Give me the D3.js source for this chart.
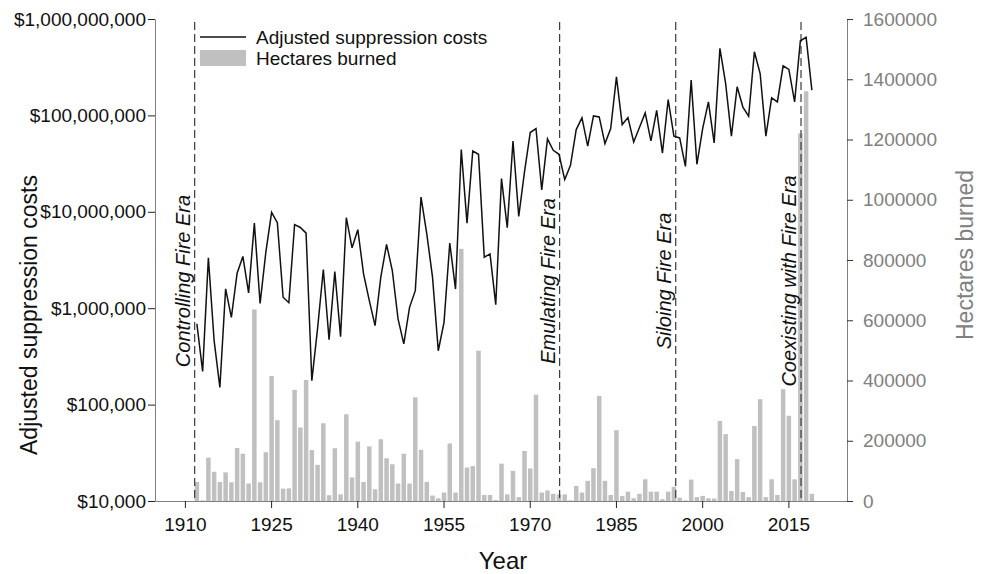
<!DOCTYPE html>
<html>
<head>
<meta charset="utf-8">
<script src="https://cdn.jsdelivr.net/npm/d3@7"></script>
<style>
  body { margin: 0; background: #fff; }
  text { font-family: "Liberation Sans", Arial, sans-serif; }
</style>
</head>
<body>
<div id="chart"></div>
<script>
// data
const firstYear = 1912;
const costs = [
  0.69e6, 0.221e6, 3.33e6, 0.46e6, 0.151e6, 1.59e6, 0.805e6, 2.31e6, 3.44e6, 1.44e6,
  7.63e6, 1.12e6, 3.81e6, 9.86e6, 7.7e6, 1.3e6, 1.14e6, 7.35e6, 6.88e6, 6.0e6,
  0.177e6, 0.618e6, 2.52e6, 0.472e6, 2.4e6, 0.507e6, 8.68e6, 4.23e6, 6.52e6, 2.27e6,
  1.2e6, 0.659e6, 2.1e6, 4.58e6, 2.46e6, 0.774e6, 0.426e6, 1.02e6, 1.52e6, 14.2e6,
  5.9e6, 2.1e6, 0.362e6, 0.714e6, 4.73e6, 1.58e6, 44.2e6, 7.63e6, 42.7e6, 39.5e6,
  3.38e6, 3.66e6, 1.09e6, 22.1e6, 6.84e6, 54.3e6, 8.96e6, 25.9e6, 66.4e6, 73.1e6,
  16.9e6, 57e6, 43.5e6, 39.5e6, 21.6e6, 30.4e6, 71.3e6, 94.2e6, 47.9e6, 98.8e6,
  96.4e6, 51e6, 73e6, 251e6, 80.3e6, 95e6, 53e6, 74.8e6, 106e6, 54.3e6,
  113e6, 40.7e6, 146e6, 60.8e6, 58.4e6, 29.6e6, 232e6, 31.1e6, 73e6, 138e6,
  51.8e6, 496e6, 214e6, 60.8e6, 198e6, 122e6, 98e6, 457e6, 272e6, 60.8e6,
  152e6, 138e6, 327e6, 300e6, 138e6, 595e6, 645e6, 183e6
];
const hectares = [
  63000, 2000, 144000, 97000, 63000, 95000, 62000, 176000, 157000, 58000,
  636000, 62000, 162000, 415000, 268000, 41000, 42000, 369000, 244000, 402000,
  169000, 120000, 258000, 19000, 175000, 22000, 288000, 78000, 197000, 63000,
  181000, 39000, 205000, 142000, 122000, 58000, 157000, 58000, 344000, 170000,
  63000, 18000, 9000, 28000, 191000, 28000, 837000, 111000, 116000, 499000,
  20000, 20000, 3000, 124000, 22000, 100000, 13000, 166000, 108000, 353000,
  28000, 35000, 24000, 22000, 22000, 2000, 50000, 28000, 67000, 109000,
  349000, 67000, 20000, 235000, 17000, 31000, 9000, 24000, 72000, 31000,
  31000, 6000, 31000, 47000, 11000, 2000, 71000, 13000, 17000, 9000,
  8000, 266000, 222000, 33000, 139000, 30000, 13000, 249000, 338000, 13000,
  72000, 20000, 371000, 283000, 72000, 1220000, 1360000, 24000
];
const eraNames = ["Controlling Fire Era", "Emulating Fire Era", "Siloing Fire Era", "Coexisting with Fire Era"];
const eraStarts = [1911.7, 1975.2, 1995.4, 2017.2];
const yearTicks = [1910, 1925, 1940, 1955, 1970, 1985, 2000, 2015];
const costTicks = [1e4, 1e5, 1e6, 1e7, 1e8, 1e9];
const hectareTicks = [0, 200000, 400000, 600000, 800000, 1000000, 1200000, 1400000, 1600000];

const data = costs.map((c, i) => ({year: firstYear + i, cost: c, ha: hectares[i]}));

const W = 987, H = 574;
const margin = {left: 155, right: 847, top: 19, bottom: 501};

const svg = d3.select("#chart").append("svg")
  .attr("width", W).attr("height", H);

const x = d3.scaleLinear().domain([1904.8, 2025.2]).range([margin.left, margin.right]);
const yCost = d3.scaleLog().domain([1e4, 1e9]).range([margin.bottom, margin.top]);
const yHa = d3.scaleLinear().domain([0, 1600000]).range([margin.bottom, margin.top]);

// bars
const barW = 4.5;
svg.append("g").selectAll("rect")
  .data(data)
  .join("rect")
  .attr("x", d => x(d.year) - barW / 2 + 0.5)
  .attr("width", barW)
  .attr("y", d => yHa(d.ha))
  .attr("height", d => margin.bottom - yHa(d.ha))
  .attr("fill", "#c0c0c0");

// era lines
svg.append("g").selectAll("line")
  .data(eraStarts)
  .join("line")
  .attr("x1", d => x(d)).attr("x2", d => x(d))
  .attr("y1", margin.top + 3).attr("y2", margin.bottom)
  .attr("stroke", "#3a3a3a")
  .attr("stroke-width", 1.2)
  .attr("stroke-dasharray", "8,4");

svg.append("g").selectAll("text")
  .data(eraNames)
  .join("text")
  .attr("transform", (d, i) => `translate(${x(eraStarts[i]) - 5},281) rotate(-90)`)
  .attr("text-anchor", "middle")
  .style("font-size", "20px")
  .style("font-style", "italic")
  .attr("fill", "#111")
  .text(d => d);

// cost line
const line = d3.line()
  .x(d => x(d.year) + 0.5)
  .y(d => yCost(d.cost));

svg.append("path")
  .datum(data)
  .attr("fill", "none")
  .attr("stroke", "#111")
  .attr("stroke-width", 1.5)
  .attr("d", line);

// axes
const gx = svg.append("g")
  .attr("transform", `translate(0,${margin.bottom})`)
  .call(d3.axisBottom(x).tickValues(yearTicks).tickFormat(d3.format("d"))
    .tickSizeInner(7).tickSizeOuter(0).tickPadding(10));
gx.select(".domain").attr("stroke", "#808080");
gx.selectAll(".tick line").attr("stroke", "#222");
gx.selectAll(".tick text").style("font-size", "19px").attr("fill", "#111");

const gl = svg.append("g")
  .attr("transform", `translate(${margin.left},0)`)
  .call(d3.axisLeft(yCost).tickValues(costTicks).tickFormat(d3.format("$,"))
    .tickSizeInner(7).tickSizeOuter(0).tickPadding(2));
gl.select(".domain").attr("stroke", "#808080");
gl.selectAll(".tick line").attr("stroke", "#222");
gl.selectAll(".tick text").style("font-size", "19px").attr("fill", "#111");

const gr = svg.append("g")
  .attr("transform", `translate(${margin.right},0)`)
  .call(d3.axisRight(yHa).tickValues(hectareTicks).tickFormat(d3.format("d"))
    .tickSizeInner(6).tickSizeOuter(0).tickPadding(10));
gr.select(".domain").attr("stroke", "#808080");
gr.selectAll(".tick line").attr("stroke", "#333");
gr.selectAll(".tick text").style("font-size", "19px").attr("fill", "#808080");

// axis titles
svg.append("text")
  .attr("transform", "translate(37,315) rotate(-90)")
  .attr("text-anchor", "middle")
  .style("font-size", "23px")
  .attr("fill", "#111")
  .text("Adjusted suppression costs");

svg.append("text")
  .attr("transform", "translate(973,255) rotate(-90)")
  .attr("text-anchor", "middle")
  .style("font-size", "23px")
  .attr("fill", "#808080")
  .text("Hectares burned");

svg.append("text")
  .attr("x", 503).attr("y", 569)
  .attr("text-anchor", "middle")
  .style("font-size", "24px")
  .attr("fill", "#111")
  .text("Year");

// legend
const lg = svg.append("g").attr("transform", "translate(200,0)");
lg.append("line")
  .attr("x1", 0).attr("x2", 46).attr("y1", 37).attr("y2", 37)
  .attr("stroke", "#111").attr("stroke-width", 1.5);
lg.append("rect")
  .attr("x", 0).attr("y", 50).attr("width", 46).attr("height", 16)
  .attr("fill", "#c0c0c0");
lg.append("text").attr("x", 56).attr("y", 44)
  .style("font-size", "19px").attr("fill", "#111")
  .text("Adjusted suppression costs");
lg.append("text").attr("x", 56).attr("y", 65)
  .style("font-size", "19px").attr("fill", "#111")
  .text("Hectares burned");
</script>
</body>
</html>
